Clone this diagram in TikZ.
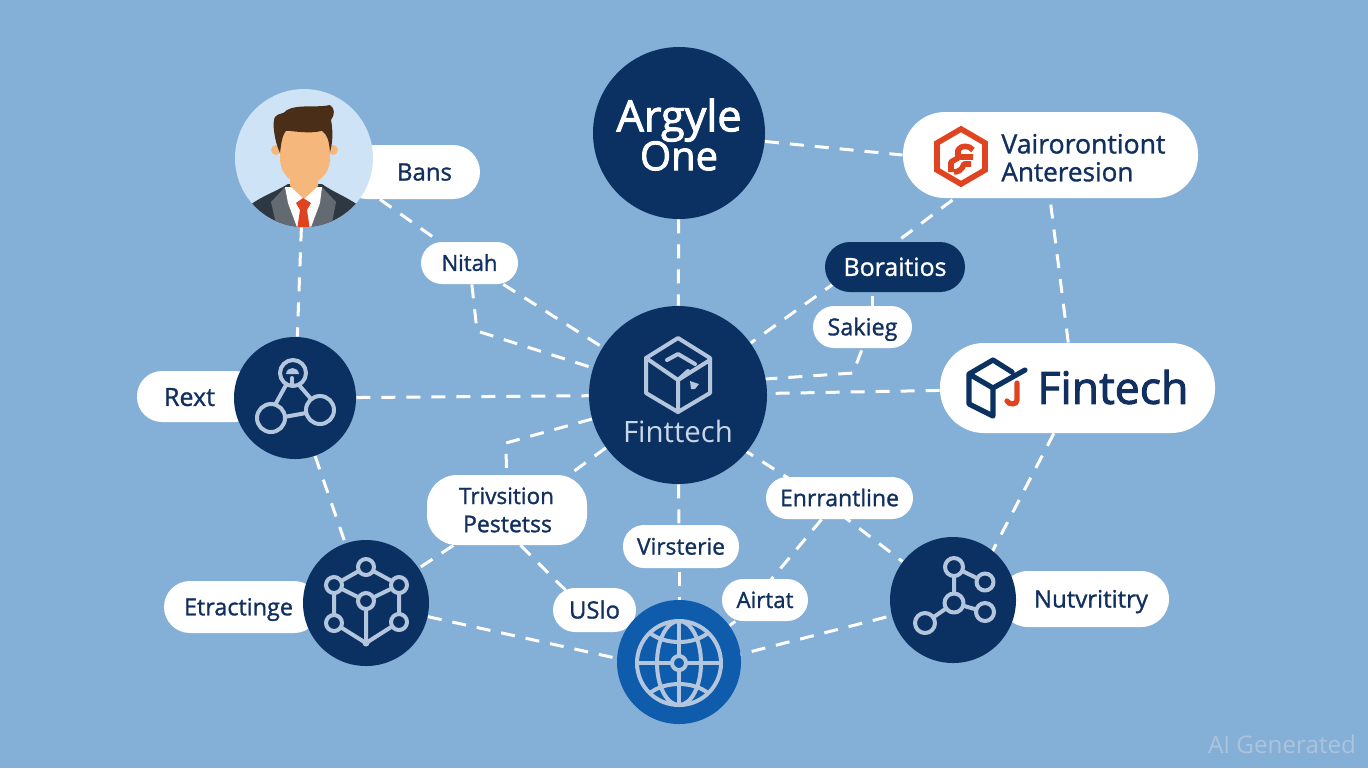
\documentclass[tikz,border=0pt]{standalone}
\usepackage{fontspec}
\usepackage{graphicx}
\setmainfont{Open Sans}
\newfontfamily\medfont[FakeBold=1.2]{Open Sans}
\newfontfamily\semifont[FakeBold=2.2]{Open Sans}
\usetikzlibrary{calc}
\pgfdeclarelayer{bglayer}
\pgfdeclarelayer{connlayer}
\pgfsetlayers{bglayer,connlayer,main}
\definecolor{sky}{HTML}{84AFD6}
\definecolor{navy}{HTML}{0A3161}
\definecolor{inknavy}{HTML}{12305F}
\definecolor{globeblue}{HTML}{0E5CAB}
\definecolor{icongrey}{HTML}{B4C6DE}
\definecolor{paleblue}{HTML}{CFE3F6}
\definecolor{logored}{HTML}{E0431F}
\definecolor{skin}{HTML}{F6B77C}
\definecolor{hair}{HTML}{4A2E17}
\definecolor{suit}{HTML}{2E3842}
\definecolor{lapel}{HTML}{646A72}
\newcommand{\capstrut}{\rule[-2.4pt]{0pt}{11.9pt}}
\newcommand{\fitw}[2]{\resizebox{#1pt}{!}{\capstrut #2}}
\tikzset{
  x=0.5pt,y=-0.5pt,
  link/.style={draw=white,line width=1.5pt,dash pattern=on 7pt off 5.5pt},
  pill/.style={shape=rectangle,fill=white,inner sep=0pt,rounded corners=#1},
  pill/.default=10pt,
  hub/.style={shape=circle,fill=navy,inner sep=0pt},
  txt/.style={inner sep=0pt,text=inknavy,font=\medfont},
  icon/.style={draw=icongrey,line width=2pt,line join=round,line cap=round},
  ring/.style={icon,fill=navy}
}
\begin{document}
\begin{tikzpicture}
\begin{pgfonlayer}{bglayer}
\fill[sky] (0,0) rectangle (1368,768);
\end{pgfonlayer}
\useasboundingbox (0,0) rectangle (1368,768);

% pills
\node[pill=13.5pt,minimum width=70pt,minimum height=27pt] (bans) at (410,172) {};
\node[pill=10.5pt,text=inknavy,minimum width=48.5pt,minimum height=21pt] (nitah) at (469.5,263) {\fitw{28}{\medfont Nitah}};
\node[pill=12.5pt,fill=navy,text=white,minimum width=70pt,minimum height=25pt] (borai) at (895,267) {\fitw{51.5}{\medfont Boraitios}};
\node[pill=10.5pt,text=inknavy,minimum width=49.5pt,minimum height=21pt] (sakieg) at (862.5,327) {\fitw{35}{\medfont Sakieg}};
\node[pill=21pt,minimum width=147.5pt,minimum height=43pt] (vairo) at (1050.5,155) {};
\node[pill=22pt,minimum width=137.5pt,minimum height=45pt] (finpill) at (1077.5,388) {};
\node[pill=12.5pt,minimum width=61.5pt,minimum height=25.5pt] (rext) at (198.5,396.5) {};
\node[pill=15pt,minimum width=80pt,minimum height=35pt] (trivs) at (507,510) {};
\node[pill=10.5pt,text=inknavy,minimum width=73.5pt,minimum height=21pt] (enrr) at (839.5,498) {\fitw{59.5}{\medfont Enrrantline}};
\node[pill=10.5pt,text=inknavy,minimum width=58pt,minimum height=21.5pt] (virst) at (681,546.5) {\fitw{44}{\medfont Virsterie}};
\node[pill=11pt,text=inknavy,minimum width=41.5pt,minimum height=22pt] (uslo) at (594.5,610) {\fitw{25.5}{\medfont USlo}};
\node[pill=10.5pt,text=inknavy,minimum width=43pt,minimum height=21pt] (airtat) at (765,600) {\fitw{28.5}{\medfont Airtat}};
\node[pill=13pt,minimum width=78pt,minimum height=26pt] (etrpill) at (242,607) {};
\node[pill=14pt,minimum width=84.5pt,minimum height=28pt] (nutpill) at (1084.5,599) {};

% labels placed off-centre in their pills
\node[txt] (banstxt) at (424.5,172) {\fitw{27.5}{Bans}};
\node[txt] (rexttxt) at (189.5,397) {\fitw{25.5}{Rext}};
\node[txt] (etrtxt) at (238.5,607) {\fitw{54.5}{Etractinge}};
\node[txt] (nuttxt) at (1091,599) {\fitw{57}{Nutvrititry}};
\node[txt] (trv1) at (506.5,496) {\fitw{47.5}{Trivsition}};
\node[txt] (trv2) at (507.5,524) {\fitw{44.5}{Pestetss}};
\node[txt,anchor=west] (vai1) at (1001,144) {\fitw{82}{Vairorontiont}};
\node[txt,anchor=west] (vai2) at (1001,172) {\fitw{66}{Anteresion}};
\node[txt,anchor=west] (fintxt) at (1037,388) {\fitw{75.5}{\semifont Fintech}};

% hubs
\node[hub,fill=paleblue,minimum size=69pt] (person) at (304,158) {};
\node[hub,minimum size=86pt] (argyle) at (679,133) {};
\node[inner sep=0pt,text=white] (arg1) at (679,116) {\fitw{62.5}{\semifont Argyle}};
\node[inner sep=0pt,text=white] (arg2) at (679,156) {\fitw{39}{\semifont One}};
\node[hub,minimum size=89pt] (fin) at (678,395) {};
\node[inner sep=0pt,text=icongrey!70!white] (fincap) at (678,432) {\fitw{55}{Finttech}};
\node[hub,minimum size=61pt] (rexthub) at (295,398) {};
\node[hub,minimum size=63pt] (etrhub) at (366,603) {};
\node[hub,fill=globeblue,minimum size=62pt] (globe) at (679,662) {};
\node[hub,minimum size=63pt] (nuthub) at (953,600) {};

% connectors
\begin{pgfonlayer}{connlayer}
\coordinate (nitelbow) at (477,331);
\coordinate (sakelbow) at (853,373);
\coordinate (trielbow) at (506,443);
\draw[link] (argyle) -- (fin);
\draw[link] (argyle) -- (vairo.west);
\draw[link] ([xshift=-19pt]vairo.center) -- ([xshift=-16pt]borai.center);
\draw[link] ([xshift=-3pt]vairo.center) -- ([xshift=-1.75pt]finpill.center);
\draw[link] ([xshift=-15pt]bans.south) -- (nitah);
\draw[link] (person) -- (rexthub);
\draw[link] (nitah) -- (fin);
\draw[link] (nitah) -- (nitelbow) -- (fin);
\draw[link] (rexthub) -- (fin);
\draw[link] (rexthub) -- (etrhub);
\draw[link] ([xshift=-19pt]borai.center) -- (fin);
\draw[link] ([xshift=-11.5pt,yshift=-2pt]borai.south) -- ([xshift=4.75pt]sakieg.north);
\draw[link] ([xshift=4pt]sakieg.center) -- (sakelbow) -- ([yshift=5pt]fin.center);
\draw[link] (finpill) -- (fin);
\draw[link] (finpill) -- ([xshift=7pt]nuthub.center);
\draw[link] (fin) -- (trielbow) -- (trivs);
\draw[link] (fin) -- ([xshift=7pt]trivs.center);
\draw[link] (fin) -- ([xshift=-1pt]virst.center);
\draw[link] ([xshift=-1pt]virst.center) -- (globe);
\draw[link] ([yshift=-6.5pt]fin.center) -- ([xshift=-10pt]enrr.center);
\draw[link] (enrr) -- ([xshift=-5.5pt]airtat.center);
\draw[link] ([xshift=-10pt]enrr.center) -- (nuthub);
\draw[link] (trivs) -- (etrhub);
\draw[link] ([xshift=-11pt]trivs.center) -- ([xshift=-4.5pt]uslo.center);
\draw[link] (etrhub) -- ([yshift=-5pt]globe.center);
\draw[link] ([yshift=-4pt]globe.center) -- (nuthub);
\draw[link] (airtat) -- (globe);
\end{pgfonlayer}

% person
\begin{scope}
\clip (304,158) circle (69);
\fill[suit] (250,205) .. controls (262,196) and (275,192) .. (288,184) -- (322,184) .. controls (333,192) and (345,196) .. (358,205) -- (358,235) -- (250,235) -- cycle;
\fill[lapel] (271,202) -- (285,187) -- (300,230) -- (277,228) -- cycle;
\fill[lapel] (336,202) -- (322,187) -- (308,230) -- (331,228) -- cycle;
\fill[white] (285,187) -- (322,187) -- (320,203) -- (310,230) -- (298,230) -- (288,203) -- cycle;
\fill[skin] (290,170) -- (318,170) -- (318,186) -- (304,199) -- (290,186) -- cycle;
\fill[logored] (296,203) -- (303,198) -- (311,203) -- (307,210) -- (310,230) -- (297,230) -- (300,210) -- cycle;
\fill[skin] (276,150) circle (5) (333,150) circle (5);
\end{scope}
\fill[skin] (280,132) -- (330,132) -- (330,160) .. controls (329,175) and (318,184) .. (305,184) .. controls (292,184) and (281,175) .. (280,160) -- cycle;
\fill[hair] (280,153) .. controls (274,140) and (272,122) .. (275,117) .. controls (280,112) and (283,115) .. (287,110) .. controls (297,104) and (318,108) .. (330,105) .. controls (335,108) and (335,115) .. (331,120) .. controls (333,130) and (333,142) .. (330,152) .. controls (329,142) and (328,135) .. (322,131) .. controls (308,134) and (295,131) .. (286,131) .. controls (282,135) and (281,145) .. (280,153) -- cycle;

% Vairo hexagon logo
\draw[logored,line width=2.8pt,line join=miter] (961,129) -- (985,143) -- (985,170) -- (961,184) -- (937,170) -- (937,143) -- cycle;
\draw[logored,line width=2.8pt,line join=round] (951,172) -- (951,162) -- (958,158) -- (958,150) .. controls (961,145) and (969,145) .. (973,150) (958,157) -- (973,157) (971,164) -- (964,164) .. controls (962,170) and (958,172) .. (954,172);

% Fintech pill logo
\draw[navy,line width=2.6pt,line join=round,line cap=round] (993,360) -- (969,374) -- (969,404) -- (993,416) -- (993,388) -- (969,374) (993,360) -- (1012,372) (993,388) -- (1025,370);
\draw[logored,line width=2.6pt,line cap=round] (1017,383) -- (1017,400) .. controls (1017,405) and (1009,405) .. (1007,401);

% Fintech hub cube
\draw[icon] (678,338) -- (710,358) -- (710,393) -- (678,412) -- (646,393) -- (646,358) -- cycle;
\draw[icon] (646,358) -- (678,380) -- (710,360) (678,380) -- (678,412);
\draw[icon] (667,360) -- (678,354) -- (695,364);
\draw[icon] (678,380) -- (688,371);
\fill[icongrey] (690,381) -- (699,384) -- (695,389) -- (691,389) -- cycle;

% Rext icon
\draw[icon] (286,385) -- (275,405) (299,385) -- (312,400) (284,417) -- (306,413);
\draw[ring] (293,373) circle (13);
\draw[ring] (271,418) circle (14);
\draw[ring] (320,410) circle (14);
\draw[icon] (292,378) -- (292,384);
\fill[icongrey] (286,374) .. controls (287,366) and (298,366) .. (299,374) -- cycle;

% Etractinge icon
\draw[icon] (334,585) -- (366,567) -- (399,585) -- (399,622) -- (366,643) -- (334,623) -- cycle;
\draw[icon] (334,585) -- (366,601) -- (399,585) (366,601) -- (366,643);
\foreach \nx/\ny in {366/567,334/585,399/585,366/601,334/623,399/622}{\draw[ring] (\nx,\ny) circle (8);}
\fill[icongrey] (366,643) circle (3.5);

% Globe icon
\begin{scope}[icon]
\draw (679,663) circle (42);
\draw (679,663) ellipse (22 and 42);
\draw (679,621) -- (679,705);
\draw (637,663) -- (721,663);
\draw (650,633) .. controls (665,645) and (693,645) .. (708,633);
\draw (650,693) .. controls (665,681) and (693,681) .. (708,693);
\end{scope}
\draw[icon,fill=globeblue] (679,663) circle (7);

% Nutvrititry icon
\draw[icon] (954,567) -- (954,603) (954,567) -- (985,582) (954,603) -- (985,612) (954,603) -- (925,623);
\draw[ring] (954,567) circle (9);
\draw[ring] (985,582) circle (8.5);
\draw[ring] (954,603) circle (9.5);
\draw[ring] (985,612) circle (9);
\draw[ring] (925,623) circle (10);

% watermark
\node[inner sep=0pt,text=icongrey!85!sky] (mark) at (1282,745) {\fitw{74}{AI Generated}};
\end{tikzpicture}
\end{document}
